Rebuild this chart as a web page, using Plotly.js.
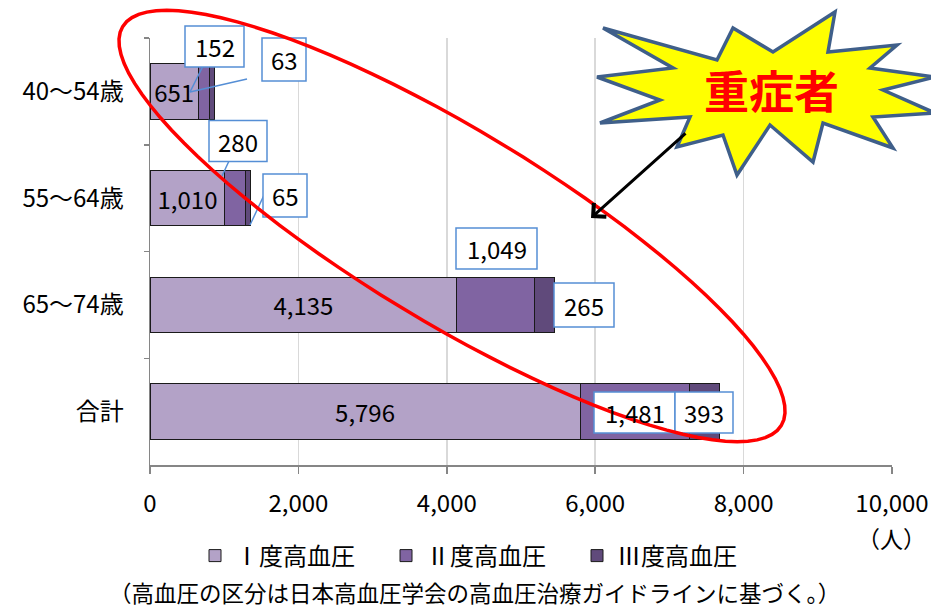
<!DOCTYPE html>
<html><head><meta charset="utf-8">
<script src="https://cdn.plot.ly/plotly-3.0.1.min.js"></script>
<style>html,body{margin:0;padding:0;background:#fff}#chart{width:931px;height:608px}</style>
</head><body><div id="chart"></div>
<script>
// ---- data ----
const categories = ['40〜54歳', '55〜64歳', '65〜74歳', '合計'];
const seriesNames = ['Ⅰ度高血圧', 'Ⅱ度高血圧', 'Ⅲ度高血圧'];
const grade1 = [651, 1010, 4135, 5796];
const grade2 = [152, 280, 1049, 1481];
const grade3 = [63, 65, 265, 393];
const xTickVals = [0, 2000, 4000, 6000, 8000, 10000];
const unitLabel = '（人）';
const footnote = '（高血圧の区分は日本高血圧学会の高血圧治療ガイドラインに基づく。）';
const calloutText = '重症者';

const colors = ['#B3A2C7', '#8064A2', '#604A7B'];
const FONT = 'Noto Sans CJK JP, Noto Sans, sans-serif';

// ---- layout geometry (pixels) ----
const W = 931, H = 608, ML = 150, MR = 39, MT = 38, MB = 143;
const PW = W - ML - MR, PH = H - MT - MB;
const px = x => (x - ML) / PW;
const py = y => (H - MB - y) / PH;
const fmt = v => v.toLocaleString('en-US');

const traces = [grade1, grade2, grade3].map((vals, i) => ({
  type: 'bar', orientation: 'h', name: seriesNames[i],
  y: categories, x: vals,
  marker: {color: colors[i], line: {color: '#1a1a1a', width: 1}},
  text: i === 0 ? vals.map(fmt) : vals.map(() => ''),
  textposition: i === 0 ? 'inside' : 'none',
  insidetextanchor: 'middle', textangle: 0, constraintext: 'none',
  textfont: {family: FONT, size: 24, color: '#000'},
  hoverinfo: 'skip'
}));

// callout boxes for grade2 / grade3 values: [center x px, center y px, w, h]
const boxPos2 = [[214.5, 46.5, 59, 41], [238, 141, 58, 41], [496.5, 248.5, 81, 41], [634.5, 412.5, 81, 41]];
const boxPos3 = [[284, 59.5, 44, 43], [285, 195.5, 44, 43], [584, 305, 60, 44], [704, 412.5, 58, 41]];
const leaders = [[205, 62, 190, 92], [247, 79, 190, 92], [229, 161, 222, 176], [265, 193, 250, 225]];

const shapes = [];
const annotations = [];
const BOXC = '#558ED5';
function addBox(p, val) {
  shapes.push({type: 'rect', xref: 'paper', yref: 'paper', layer: 'above',
    x0: px(p[0] - p[2] / 2), x1: px(p[0] + p[2] / 2), y0: py(p[1] + p[3] / 2), y1: py(p[1] - p[3] / 2),
    fillcolor: '#fff', line: {color: BOXC, width: 1.5}});
  annotations.push({xref: 'paper', yref: 'paper', x: px(p[0]), y: py(p[1]), xanchor: 'center', yanchor: 'middle',
    text: fmt(val), showarrow: false, font: {family: FONT, size: 24, color: '#000'}});
}
leaders.forEach(l => shapes.push({type: 'line', xref: 'paper', yref: 'paper', layer: 'above',
  x0: px(l[0]), y0: py(l[1]), x1: px(l[2]), y1: py(l[3]), line: {color: BOXC, width: 1.5}}));
grade2.forEach((v, i) => addBox(boxPos2[i], v));
grade3.forEach((v, i) => addBox(boxPos3[i], v));

// red ellipse (rotated)
(function () {
  const cx = 452, cy = 226, a = 385, b = 96, th = 31.2 * Math.PI / 180;
  let d = '';
  for (let k = 0; k <= 96; k++) {
    const t = 2 * Math.PI * k / 96;
    const X = cx + a * Math.cos(t) * Math.cos(th) - b * Math.sin(t) * Math.sin(th);
    const Y = cy + a * Math.cos(t) * Math.sin(th) + b * Math.sin(t) * Math.cos(th);
    d += (k === 0 ? 'M' : 'L') + px(X).toFixed(5) + ',' + py(Y).toFixed(5);
  }
  shapes.push({type: 'path', xref: 'paper', yref: 'paper', layer: 'above', path: d + 'Z',
    line: {color: '#FF0000', width: 3.5}});
})();

// starburst
const star = [[603, 28], [717, 60], [733, 28], [773, 52], [835, 12], [828, 52], [897, 45], [870, 68],
  [935, 77], [883, 90], [935, 113], [873, 117], [893, 148], [823, 123], [813, 162], [770, 125],
  [737, 175], [723, 135], [677, 147], [690, 117], [600, 123], [660, 100], [597, 77], [673, 68]];
shapes.push({type: 'path', xref: 'paper', yref: 'paper', layer: 'above',
  path: star.map((p, i) => (i ? 'L' : 'M') + px(p[0]).toFixed(5) + ',' + py(p[1]).toFixed(5)).join('') + 'Z',
  fillcolor: '#FFFF00', line: {color: '#3F5F8A', width: 3.5}});
annotations.push({xref: 'paper', yref: 'paper', x: px(771), y: py(89), xanchor: 'center', yanchor: 'middle',
  text: '<b>' + calloutText + '</b>', showarrow: false, font: {family: FONT, size: 45, color: '#FF0000'}});
// arrow
annotations.push({xref: 'paper', yref: 'paper', x: px(591), y: py(218), ax: 96, ay: -86, text: '',
  showarrow: true, arrowhead: 4, arrowsize: 1.2, arrowwidth: 3, arrowcolor: '#000', standoff: 0});

// unit + footnote
annotations.push({xref: 'paper', yref: 'paper', x: px(928), y: py(538), xanchor: 'right', yanchor: 'middle',
  text: unitLabel, showarrow: false, font: {family: FONT, size: 23, color: '#000'}});
annotations.push({xref: 'paper', yref: 'paper', x: px(474), y: py(592), xanchor: 'center', yanchor: 'middle',
  text: footnote, showarrow: false, font: {family: FONT, size: 22.5, color: '#000'}});

const layout = {
  width: W, height: H, margin: {l: ML, r: MR, t: MT, b: MB, pad: 0},
  paper_bgcolor: '#fff', plot_bgcolor: '#fff',
  barmode: 'stack', bargap: 0.48,
  font: {family: FONT, size: 24, color: '#000'},
  xaxis: {range: [0, 10000], tickvals: xTickVals, ticktext: xTickVals.map(fmt),
    showgrid: true, gridcolor: '#D9D9D9', gridwidth: 1.5, zeroline: false,
    showline: true, linecolor: '#868686', linewidth: 1.5, ticks: 'outside', ticklen: 7, tickcolor: '#868686', tickwidth: 1.5,
    ticklabelstandoff: 10, tickfont: {family: FONT, size: 24}},
  yaxis: {type: 'category', categoryorder: 'array', categoryarray: categories, autorange: 'reversed',
    showgrid: false, zeroline: false, showline: true, linecolor: '#868686', linewidth: 1.5,
    ticks: 'outside', tickson: 'boundaries', ticklen: 5, tickcolor: '#868686', tickwidth: 1.5,
    ticklabelstandoff: 20, tickfont: {family: FONT, size: 24}},
  legend: {orientation: 'h', x: px(195), xanchor: 'left', y: py(556), yanchor: 'middle',
    font: {family: FONT, size: 24}, entrywidth: 146, entrywidthmode: 'pixels', traceorder: 'normal'},
  showlegend: true,
  shapes: shapes, annotations: annotations
};

Plotly.newPlot('chart', traces, layout, {staticPlot: true, displayModeBar: false});
</script></body></html>
